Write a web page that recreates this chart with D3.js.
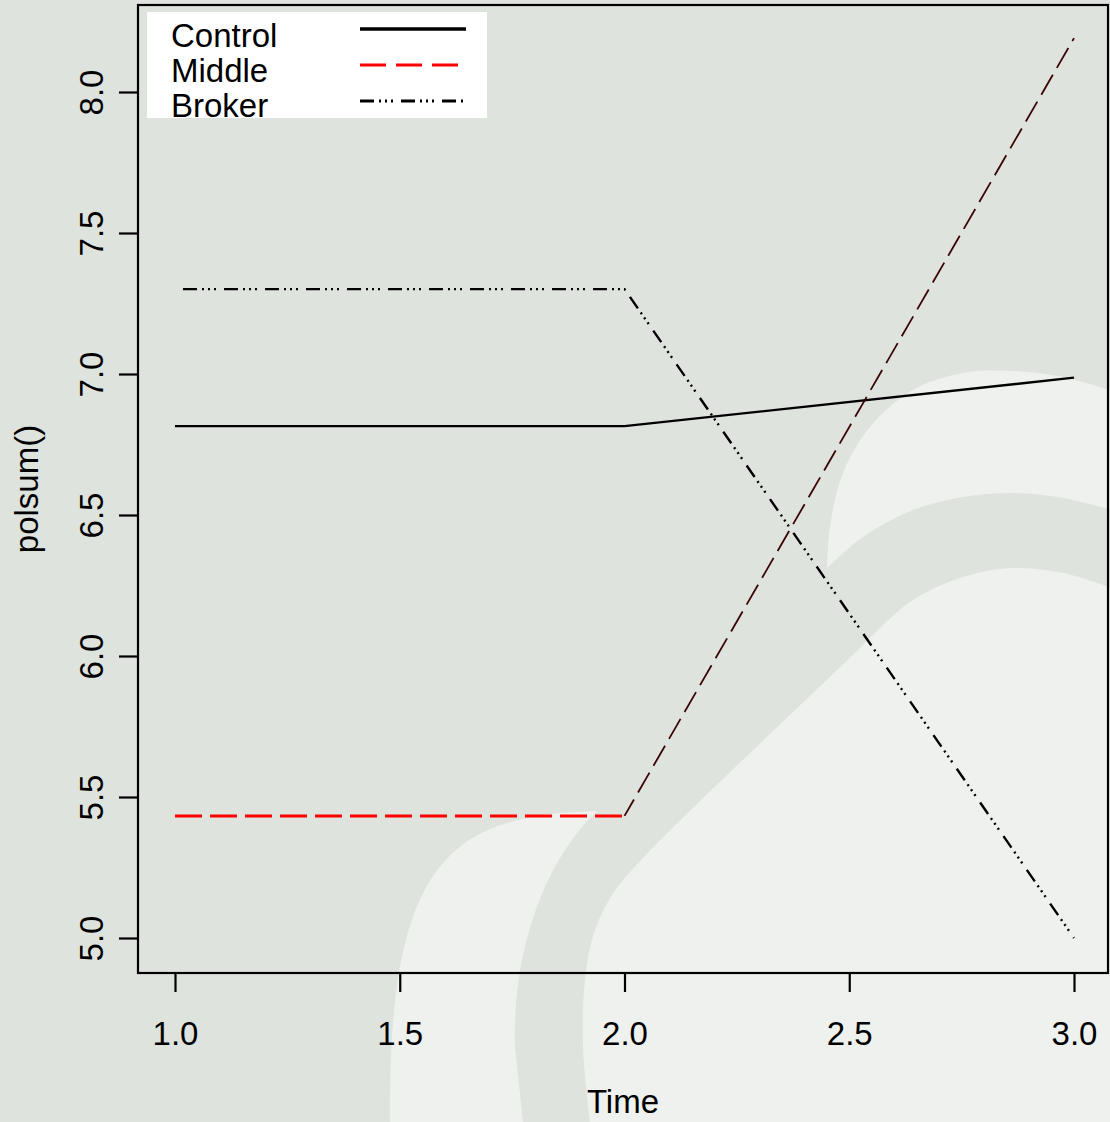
<!DOCTYPE html>
<html lang="en"><head>
  <meta charset="utf-8">
  <title>polsum over time</title>
  <script src="https://cdnjs.cloudflare.com/ajax/libs/d3/7.8.5/d3.min.js" charset="utf-8"></script>
  <style type="text/css">
    body{
      margin:0;
      padding:0;
      background:#dfe3de;
    }
    .chart-svg{
      display:block;
    }
    .all-text{
      font-family: "Liberation Sans", Arial, sans-serif;
      font-size: 33px;
      fill: #000;
    }
  </style>
</head>
<body>
  <svg class="chart-svg" width="1110" height="1122"></svg>

<script>
// chart values
var times = [1, 2, 3]
var control = [6.815, 6.815, 6.987]
var middle = [5.433, 5.433, 8.191]
var broker = [7.301, 7.301, 5.0]

var seriesNames = ["Control", "Middle", "Broker"]
var xTicks = [1.0, 1.5, 2.0, 2.5, 3.0]
var yTicks = [5.0, 5.5, 6.0, 6.5, 7.0, 7.5, 8.0]

var svg = d3.select('.chart-svg')

// plot box in pixels
var box = {left: 138, right: 1108, top: 5, bottom: 973}

var x = d3.scaleLinear().domain([1, 3]).range([175, 1074])
var y = d3.scaleLinear().domain([5, 8]).range([938, 92])

addBackground()
addLines()
addAxes()
addLegend()

function addBackground() {
  svg.append("rect")
    .attr("width", 1110)
    .attr("height", 1122)
    .attr("fill", "#dfe3de")

  var curve = d3.line().curve(d3.curveCatmullRom)

  // lower left crescent (watermark)
  svg.append("path")
    .attr("d", "M390,1122 C388,860 450,815 597,811 C545,860 512,950 515,1047 L523,1122 Z")
    .attr("fill", "#eff1ee")

  // upper right crescent
  var upperRight = [[827,568],[830,527],[843,473],[870,427],[913,390],[963,373],[1013,371],[1063,377],[1112,391],
                    [1112,510],[1063,498],[1013,493],[963,497],[913,510],[863,537],[827,568]]
  // inner shape
  var inner = [[1112,588],[1063,573],[1013,568],[963,577],[913,600],[880,628],[860,648],
               [643,858],[612,895],[594,933],[585,980],[583,1047],[590,1122]]

  svg.append("path")
    .attr("d", curve(upperRight.slice(0, 9)) + "L" + curve(upperRight.slice(9)).slice(1) + "Z")
    .attr("fill", "#eff1ee")

  svg.append("path")
    .attr("d", curve(inner) + "L1112,1122Z")
    .attr("fill", "#eff1ee")
}

function addLines() {
  var line = d3.line()
    .x(function(d) { return x(d[0]) })
    .y(function(d) { return y(d[1]) })

  svg.append("path")
    .attr("d", line(d3.zip(times, control)))
    .attr("fill", "none")
    .attr("stroke", "#000")
    .attr("stroke-width", 2.4)

  svg.append("path")
    .attr("d", line(d3.zip(times, broker)))
    .attr("fill", "none")
    .attr("stroke", "#000")
    .attr("stroke-width", 2.4)
    .attr("stroke-dasharray", "14,5,2,4,2,4,2,8")
    .attr("stroke-dashoffset", 33)

  // middle: first segment red, second drawn darker
  var pts = d3.pairs(d3.zip(times, middle))
  svg.append("path")
    .attr("d", line(pts[0]))
    .attr("fill", "none")
    .attr("stroke", "#ff0000")
    .attr("stroke-width", 3)
    .attr("stroke-dasharray", "27,8")

  svg.append("path")
    .attr("d", line(pts[1]))
    .attr("fill", "none")
    .attr("stroke", "#3a0505")
    .attr("stroke-width", 1.8)
    .attr("stroke-dasharray", "23,8")
    .attr("stroke-dashoffset", 4)
}

function addAxes() {
  svg.append("rect")
    .attr("x", box.left)
    .attr("y", box.top)
    .attr("width", box.right - box.left)
    .attr("height", box.bottom - box.top)
    .attr("fill", "none")
    .attr("stroke", "#000")
    .attr("stroke-width", 2.2)

  var xAxis = d3.axisBottom(x)
    .tickValues(xTicks)
    .tickSize(19)
    .tickPadding(0)
    .tickFormat(d3.format(".1f"))

  var gx = svg.append("g")
    .attr("transform", "translate(0," + box.bottom + ")")
    .call(xAxis)
  gx.select(".domain").remove()
  gx.selectAll(".tick line").attr("stroke-width", 2.2)
  gx.selectAll(".tick text")
    .attr("class", "all-text")
    .attr("y", 72)
    .attr("dy", null)

  var yAxis = d3.axisLeft(y)
    .tickValues(yTicks)
    .tickSize(19)
    .tickFormat(d3.format(".1f"))

  var gy = svg.append("g")
    .attr("transform", "translate(" + box.left + ",0)")
    .call(yAxis)
  gy.select(".domain").remove()
  gy.selectAll(".tick line").attr("stroke-width", 2.2)
  gy.selectAll(".tick text")
    .attr("class", "all-text")
    .attr("x", null)
    .attr("dy", null)
    .attr("text-anchor", "middle")
    .attr("transform", "translate(-35,0) rotate(-90)")

  svg.append("text")
    .attr("class", "all-text")
    .attr("x", (box.left + box.right) / 2)
    .attr("y", 1113)
    .attr("text-anchor", "middle")
    .text("Time")

  svg.append("text")
    .attr("class", "all-text")
    .attr("text-anchor", "middle")
    .attr("transform", "translate(38," + ((box.top + box.bottom) / 2) + ") rotate(-90)")
    .text("polsum()")
}

function addLegend() {
  svg.append("rect")
    .attr("x", 147)
    .attr("y", 12)
    .attr("width", 340)
    .attr("height", 106)
    .attr("fill", "#fff")

  var styles = [
    {stroke: "#000", width: 3.5, dash: null},
    {stroke: "#ff0000", width: 3, dash: "26,10"},
    {stroke: "#000", width: 2.8, dash: "14,5,2,4,2,4,2,8"}
  ]

  seriesNames.forEach(function(name, i) {
    svg.append("text")
      .attr("class", "all-text")
      .attr("x", 171)
      .attr("y", 47 + i * 35)
      .text(name)

    svg.append("line")
      .attr("x1", 360)
      .attr("x2", 466)
      .attr("y1", 29 + i * 36)
      .attr("y2", 29 + i * 36)
      .attr("stroke", styles[i].stroke)
      .attr("stroke-width", styles[i].width)
      .attr("stroke-dasharray", styles[i].dash)
  })
}
</script>
</body></html>
